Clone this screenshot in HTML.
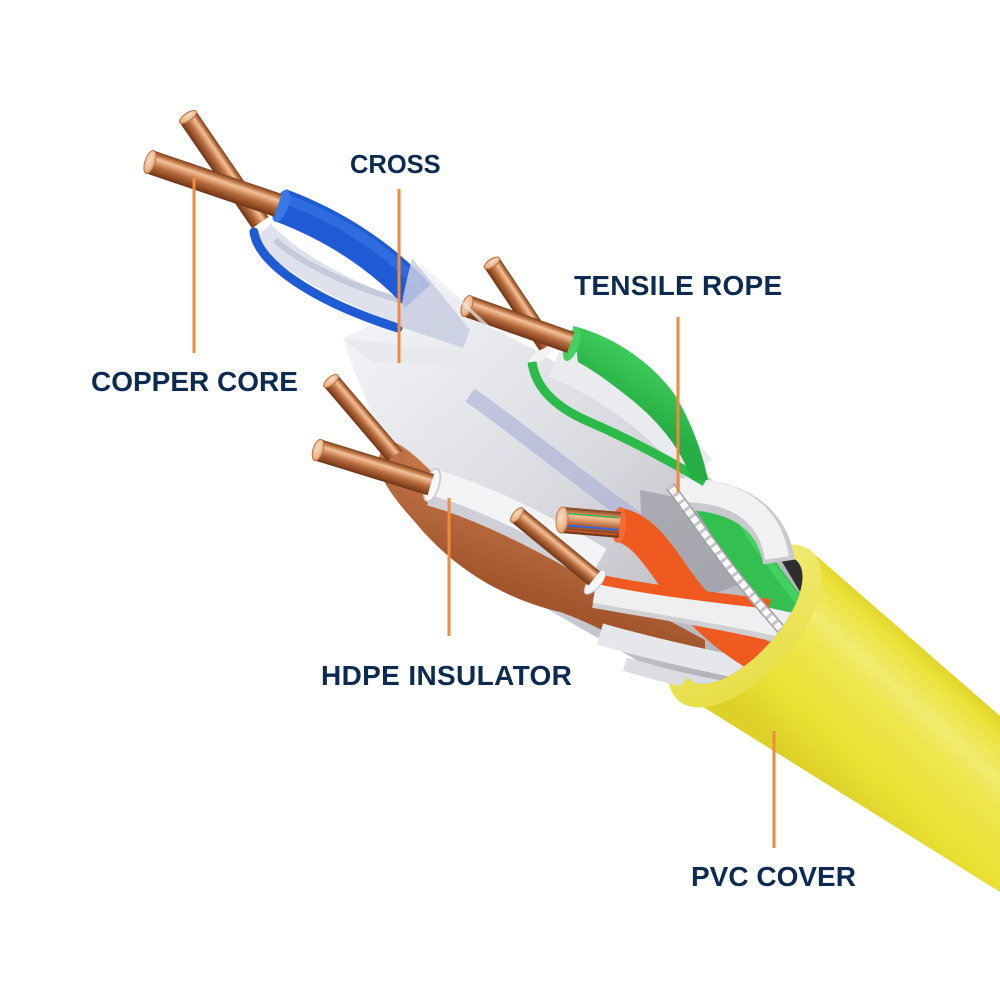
<!DOCTYPE html>
<html>
<head>
<meta charset="utf-8">
<style>
html,body{margin:0;padding:0;background:#ffffff;}
svg{display:block;}
.lbl{font-family:"Liberation Sans",Arial,sans-serif;font-weight:bold;fill:#0d2b50;}
</style>
</head>
<body>
<svg width="1000" height="1000" viewBox="0 0 1000 1000" xmlns="http://www.w3.org/2000/svg">
<defs>
  <linearGradient id="cu" x1="0" y1="0" x2="0" y2="1">
    <stop offset="0" stop-color="#7a3d1c"/>
    <stop offset="0.15" stop-color="#bf7546"/>
    <stop offset="0.3" stop-color="#f2c199"/>
    <stop offset="0.42" stop-color="#e0a073"/>
    <stop offset="0.62" stop-color="#b36a3c"/>
    <stop offset="0.85" stop-color="#8d4824"/>
    <stop offset="1" stop-color="#6c3417"/>
  </linearGradient>
  <radialGradient id="cuend" cx="0.4" cy="0.4" r="0.7">
    <stop offset="0" stop-color="#f8dcc2"/>
    <stop offset="0.7" stop-color="#eab48a"/>
    <stop offset="1" stop-color="#c98055"/>
  </radialGradient>
  <linearGradient id="jacket" gradientUnits="userSpaceOnUse" x1="920" y1="646" x2="807" y2="772">
    <stop offset="0" stop-color="#e2d52a"/>
    <stop offset="0.08" stop-color="#ebe23a"/>
    <stop offset="0.28" stop-color="#f2ec70"/>
    <stop offset="0.42" stop-color="#eee64c"/>
    <stop offset="0.75" stop-color="#ebe134"/>
    <stop offset="1" stop-color="#ddd028"/>
  </linearGradient>
  <linearGradient id="rim" x1="0" y1="0" x2="1" y2="1">
    <stop offset="0" stop-color="#f2ec78"/>
    <stop offset="1" stop-color="#e6dc40"/>
  </linearGradient>
  <linearGradient id="wedge" gradientUnits="userSpaceOnUse" x1="400" y1="300" x2="730" y2="650">
    <stop offset="0" stop-color="#f1f2f5"/>
    <stop offset="0.5" stop-color="#dadbe0"/>
    <stop offset="1" stop-color="#b4b4ba"/>
  </linearGradient>
  <linearGradient id="brown" gradientUnits="userSpaceOnUse" x1="450" y1="470" x2="420" y2="560">
    <stop offset="0" stop-color="#c47649"/>
    <stop offset="1" stop-color="#a2552d"/>
  </linearGradient>
  <linearGradient id="green" gradientUnits="userSpaceOnUse" x1="640" y1="350" x2="610" y2="400">
    <stop offset="0" stop-color="#3fcf5e"/>
    <stop offset="1" stop-color="#26ad43"/>
  </linearGradient>
  <clipPath id="wclip">
    <rect x="-2000" y="-2000" width="1992" height="4000" transform="translate(745,626) rotate(42)"/>
    <ellipse cx="0" cy="0" rx="35" ry="80" transform="translate(743,620) rotate(42)"/>
  </clipPath>
</defs>

<rect width="1000" height="1000" fill="#ffffff"/>

<!-- Yellow PVC jacket -->
<path d="M812,552 L1000,716 L1000,892 L700,705 L678,700 Z" fill="url(#jacket)"/>
<ellipse cx="0" cy="0" rx="50" ry="100" transform="translate(745,626) rotate(42)" fill="url(#rim)"/>
<ellipse cx="0" cy="0" rx="35" ry="80" transform="translate(743,620) rotate(42)" fill="#2e2e30"/>

<g clip-path="url(#wclip)">
  <!-- separator / white mass -->
  <path d="M343,338 L372,325 L405,290 L422,265 L480,322 L535,350 L600,390 L680,450 L760,525 L805,600 L795,680 L720,692 L640,662 L540,605 L450,535 L400,470 L372,415 L350,360 Z" fill="url(#wedge)"/>
  <path d="M640,490 L690,500 L722,540 L738,585 L702,598 L662,560 L642,530 Z" fill="#9d9da5" opacity="0.75"/>
  <path d="M470,395 C520,430 580,480 640,522" stroke="#a9aed6" stroke-width="16" fill="none" opacity="0.6"/>

  <!-- brown mass -->
  <path d="M385,440 C400,440 420,460 440,480 L560,560 C600,585 650,610 705,640 L705,668 C650,660 600,625 560,612 C500,598 450,565 415,522 C395,500 378,478 378,460 Z" fill="url(#brown)"/>

  <!-- brown: copper E + cap -->
  <g transform="translate(331,381) rotate(49.6)">
    <rect x="0" y="-9" width="102" height="18" fill="url(#cu)"/>
    <ellipse cx="0" cy="0" rx="4" ry="9" fill="url(#cuend)" stroke="#b8703f" stroke-width="1"/>
  </g>
  <ellipse cx="0" cy="0" rx="6" ry="12" transform="translate(397,461) rotate(50)" fill="#c07048"/>

  <!-- HDPE white band -->
  <path d="M432,488 C475,500 530,525 600,566" stroke="#cfd0d5" stroke-width="36" fill="none"/>
  <path d="M432,482 C475,494 530,519 600,560" stroke="#f3f4f6" stroke-width="26" fill="none"/>
  <ellipse cx="0" cy="0" rx="7" ry="17" transform="translate(432,485) rotate(17)" fill="#f7f7f9" stroke="#c6c6cb" stroke-width="1.5"/>
  <g transform="translate(318,450) rotate(17.1)">
    <rect x="0" y="-11" width="118" height="22" fill="url(#cu)"/>
    <ellipse cx="0" cy="0" rx="5" ry="11" fill="url(#cuend)" stroke="#b8703f" stroke-width="1"/>
  </g>

  <!-- lower white bands -->
  <path d="M600,634 C655,650 720,664 790,678" stroke="#e6e7ea" stroke-width="22" fill="none"/>
  <path d="M625,664 C670,678 715,688 765,694" stroke="#dcdde1" stroke-width="14" fill="none"/>

  <!-- green lower -->
  <path d="M712,500 C738,540 760,575 790,612" stroke="#33c051" stroke-width="38" fill="none"/>
  <path d="M726,498 C750,535 770,565 798,600" stroke="#4fd86c" stroke-width="8" fill="none" opacity="0.6"/>

  <!-- white loop -->
  <path d="M680,494 C735,494 772,516 779,562" stroke="#c9c9ce" stroke-width="32" fill="none"/>
  <path d="M680,490 C735,490 770,512 777,558" stroke="#f0f1f3" stroke-width="24" fill="none"/>

  <!-- orange body -->
  <path d="M619,525 C648,530 665,568 690,598 C715,628 750,655 790,670" stroke="#ee5a20" stroke-width="34" fill="none"/>

  <!-- orange-white band -->
  <path d="M595,592 C650,602 720,612 795,630" stroke="#cfd0d4" stroke-width="32" fill="none"/>
  <path d="M595,590 C650,600 720,610 795,627" stroke="#eeeff1" stroke-width="26" fill="none"/>
  <path d="M597,579 C640,588 690,595 770,604" stroke="#f05a1f" stroke-width="10" fill="none"/>
  <ellipse cx="0" cy="0" rx="6" ry="15" transform="translate(595,582) rotate(40)" fill="#f5f5f7" stroke="#c4c4c8" stroke-width="1"/>

  <!-- copper G -->
  <g transform="translate(517,515) rotate(39.4)">
    <rect x="0" y="-9" width="100" height="18" fill="url(#cu)"/>
    <ellipse cx="0" cy="0" rx="4" ry="9" fill="url(#cuend)" stroke="#b8703f" stroke-width="1"/>
  </g>

  <!-- orange cap + copper H -->
  <ellipse cx="0" cy="0" rx="7" ry="18" transform="translate(619,525) rotate(5)" fill="#f36b35"/>
  <g transform="translate(562,520) rotate(4.9)">
    <rect x="0" y="-13" width="58" height="26" fill="url(#cu)"/>
    <line x1="4" y1="-7" x2="56" y2="-7" stroke="#3fb35a" stroke-width="1.5"/>
    <line x1="4" y1="5" x2="56" y2="5" stroke="#3b64d8" stroke-width="2"/>
    <line x1="4" y1="10" x2="56" y2="10" stroke="#e0582a" stroke-width="1.2"/>
    <ellipse cx="0" cy="0" rx="6" ry="13" fill="url(#cuend)" stroke="#c07a48" stroke-width="1"/>
  </g>

  <!-- tensile rope -->
  <path d="M670,486 C692,515 712,545 737,577 C758,603 778,627 800,650" stroke="#a0a0a6" stroke-width="10" fill="none"/>
  <path d="M670,486 C692,515 712,545 737,577 C758,603 778,627 800,650" stroke="#fbfbfb" stroke-width="7" fill="none"/>
  <path d="M670,486 C692,515 712,545 737,577 C758,603 778,627 800,650" stroke="#c4c4ca" stroke-width="7" fill="none" stroke-dasharray="3 6"/>

  <!-- green pair -->
  <g transform="translate(492,263) rotate(56.3)">
    <rect x="0" y="-9" width="100" height="18" fill="url(#cu)"/>
    <ellipse cx="0" cy="0" rx="4" ry="9" fill="url(#cuend)" stroke="#b8703f" stroke-width="1"/>
  </g>
  <path d="M555,362 C600,380 650,412 700,470" stroke="#e9ebee" stroke-width="32" fill="none"/>
  <ellipse cx="0" cy="0" rx="5" ry="13" transform="translate(540,356) rotate(56)" fill="#f3f3f5"/>
  <path d="M532,362 C535,385 552,405 585,420 C620,435 660,455 705,482" stroke="#2cbb4a" stroke-width="9" fill="none"/>
  <path d="M573,326 C610,335 650,360 675,395 C690,420 702,450 708,480 L692,480 C682,452 662,424 632,400 C612,384 596,372 578,362 Z" fill="url(#green)"/>
  <ellipse cx="0" cy="0" rx="7" ry="18" transform="translate(572,344) rotate(20)" fill="#45cf62"/>
  <g transform="translate(467,306) rotate(19.4)">
    <rect x="0" y="-11" width="110" height="22" fill="url(#cu)"/>
    <ellipse cx="0" cy="0" rx="5" ry="11" fill="url(#cuend)" stroke="#b8703f" stroke-width="1"/>
  </g>

  <!-- blue pair -->
  <g transform="translate(188,117) rotate(55.6)">
    <rect x="0" y="-10" width="128" height="20" fill="url(#cu)"/>
    <ellipse cx="0" cy="0" rx="4" ry="10" fill="url(#cuend)" stroke="#b8703f" stroke-width="1"/>
  </g>
  <path d="M262,232 C290,262 340,290 400,312" stroke="#dfe2ec" stroke-width="24" fill="none"/>
  <path d="M275,240 C300,262 345,285 400,300" stroke="#b9bfd3" stroke-width="6" fill="none" opacity="0.7"/>
  <path d="M254,232 C258,262 310,300 398,328" stroke="#1e5bd4" stroke-width="9" fill="none" stroke-linecap="round"/>
  <path d="M280,205 C320,220 372,246 418,296" stroke="#1e5bd4" stroke-width="34" fill="none"/>
  <path d="M283,198 C322,212 372,236 418,284" stroke="#3574e4" stroke-width="10" fill="none" opacity="0.7"/>
  <ellipse cx="0" cy="0" rx="7" ry="17" transform="translate(281,206) rotate(20)" fill="#3a78e6"/>
  <g transform="translate(150,162) rotate(18.7)">
    <rect x="0" y="-12" width="135" height="24" fill="url(#cu)"/>
    <ellipse cx="0" cy="0" rx="5" ry="12" fill="url(#cuend)" stroke="#b8703f" stroke-width="1"/>
  </g>

  <!-- translucent separator overlays -->
  <path d="M412,258 L470,330 L463,348 L398,326 L404,292 Z" fill="#c8cde0" opacity="0.85"/>
  <path d="M343,338 L465,352 L472,364 L372,362 Z" fill="#e6e7eb" opacity="0.8"/>
  <path d="M420,262 L505,340 L540,352 L480,322 Z" fill="#e9eaee" opacity="0.7"/>
</g>

<!-- leader lines -->
<g stroke="#f08a3c" stroke-width="3">
  <line x1="194" y1="178" x2="194" y2="353"/>
  <line x1="399" y1="189" x2="399" y2="363"/>
  <line x1="678" y1="317" x2="678" y2="492"/>
  <line x1="449" y1="498" x2="449" y2="636"/>
  <line x1="774" y1="731" x2="774" y2="848"/>
</g>

<!-- labels -->
<text class="lbl" x="350" y="173" font-size="25.5">CROSS</text>
<text class="lbl" x="91" y="391" font-size="28">COPPER CORE</text>
<text class="lbl" x="574" y="295" font-size="28" letter-spacing="0.25">TENSILE ROPE</text>
<text class="lbl" x="321" y="685" font-size="28" letter-spacing="0.35">HDPE INSULATOR</text>
<text class="lbl" x="691" y="886" font-size="28">PVC COVER</text>
</svg>
</body>
</html>
